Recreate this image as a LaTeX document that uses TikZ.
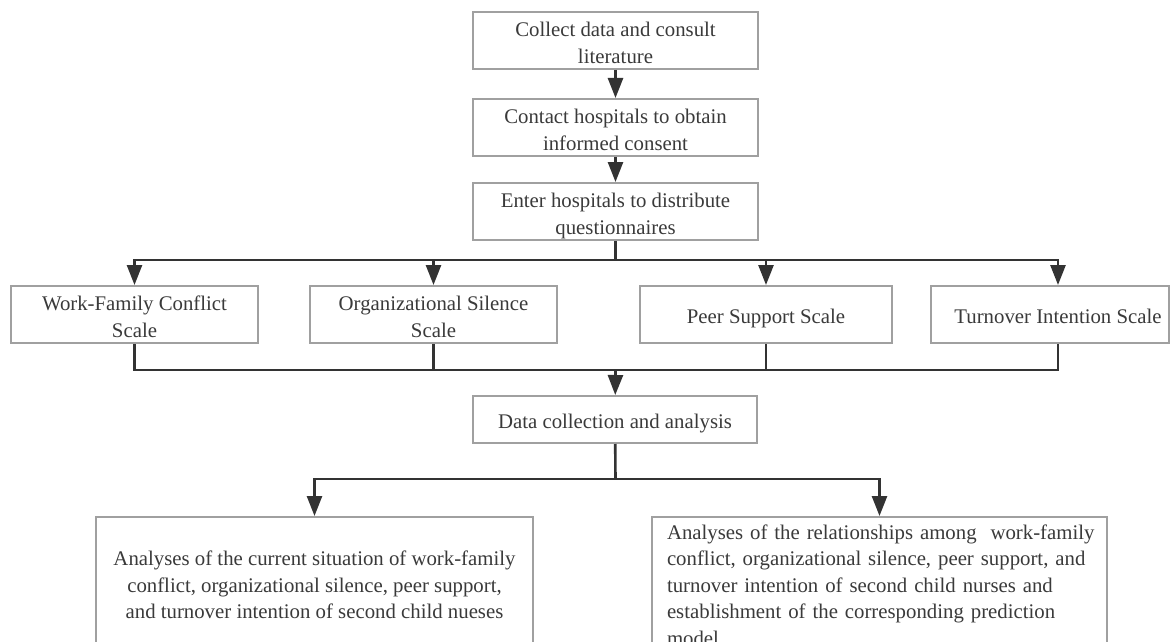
\documentclass[tikz,border=0pt]{standalone}
\usepackage{fontspec}
\setmainfont{Liberation Serif}
\usetikzlibrary{arrows.meta}
\definecolor{ink}{RGB}{51,51,51}
\definecolor{txt}{RGB}{58,58,58}
\definecolor{frame}{RGB}{160,160,160}
% lines set a little below the centre of their box, centring kept as if unshifted
\newcommand\lowtext[1]{\raisebox{-2pt}[\height][\depth]{\begin{tabular}{@{}c@{}}#1\end{tabular}}}
\begin{document}
\begin{tikzpicture}[x=0.5pt,y=-0.5pt,
  box/.style={draw=frame, line width=1pt, fill=white, inner sep=0pt,
              align=center, text=txt,
              font=\fontsize{10.4pt}{13.3pt}\selectfont,
              minimum height=28.5pt},
  link/.style={draw=ink, line width=1.3pt},
  arr/.style={link, -{Triangle[length=10pt,width=7.5pt]}}]
\clip (0,0) rectangle (1172,642);
\fill[white] (0,0) rectangle (1172,642);

% preparation steps
\node[box, minimum width=142.5pt] (b1) at (615.5,40.5)  {\lowtext{Collect data and consult\\literature}};
\node[box, minimum width=142.5pt] (b2) at (615.5,127.5) {\lowtext{Contact hospitals to obtain\\informed consent}};
\node[box, minimum width=142.5pt] (b3) at (615.5,211.5) {\lowtext{Enter hospitals to distribute\\questionnaires}};

% scales
\node[box, minimum width=123.5pt] (wf) at (134.5,314.5) {\lowtext{Work-Family Conflict\\Scale}};
\node[box, minimum width=123.5pt] (os) at (433.5,314.5) {\lowtext{Organizational Silence\\Scale}};
\node[box, minimum width=126pt]   (ps) at (766,314.5)   {\lowtext{Peer Support Scale}};
\node[box, minimum width=119pt]   (ti) at (1050,314.5)  {\hspace*{8pt}\lowtext{Turnover Intention Scale}};

% analysis
\node[box, minimum width=142pt, minimum height=23.5pt] (dca) at (615,419.5) {\lowtext{Data collection and analysis}};

\node[box, minimum width=218.5pt, minimum height=68pt] (bl) at (314.5,585)
  {Analyses of the current situation of work-family\\
   conflict, organizational silence, peer support,\\
   and turnover intention of second child nueses};
\node[box, minimum width=227.5pt, minimum height=68pt, text width=212.5pt, align=left] (br) at (879.5,585)
  {\mbox{Analyses of the relationships among\ \ work-family}\\
   \mbox{conflict, organizational silence, peer support, and}\\
   \mbox{turnover intention of second child nurses and}\\
   \mbox{establishment of the corresponding prediction}\\
   model};

% junctions of the connector trees
\coordinate (j1) at (615.5,260);
\coordinate (j2) at (615.5,370);
\coordinate (j3) at (615.5,479);

% connectors
\draw[arr] (b1) -- (b2);
\draw[arr] (b2) -- (b3);
\draw[link] (b3) -- (j1);
\draw[arr] (j1) -| (wf);
\draw[arr] (j1) -| (os);
\draw[arr] (j1) -| (ps);
\draw[arr] (j1) -| ([xshift=4pt]ti.north);

\draw[link] (wf) |- (j2);
\draw[link] (os) |- (j2);
\draw[link] (ps) |- (j2);
\draw[link] ([xshift=4pt]ti.south) |- (j2);
\draw[arr] (j2) -- (dca);

\draw[link] (dca) -- (j3);
\draw[arr] (j3) -| (bl);
\draw[arr] (j3) -| (br);
\end{tikzpicture}
\end{document}
